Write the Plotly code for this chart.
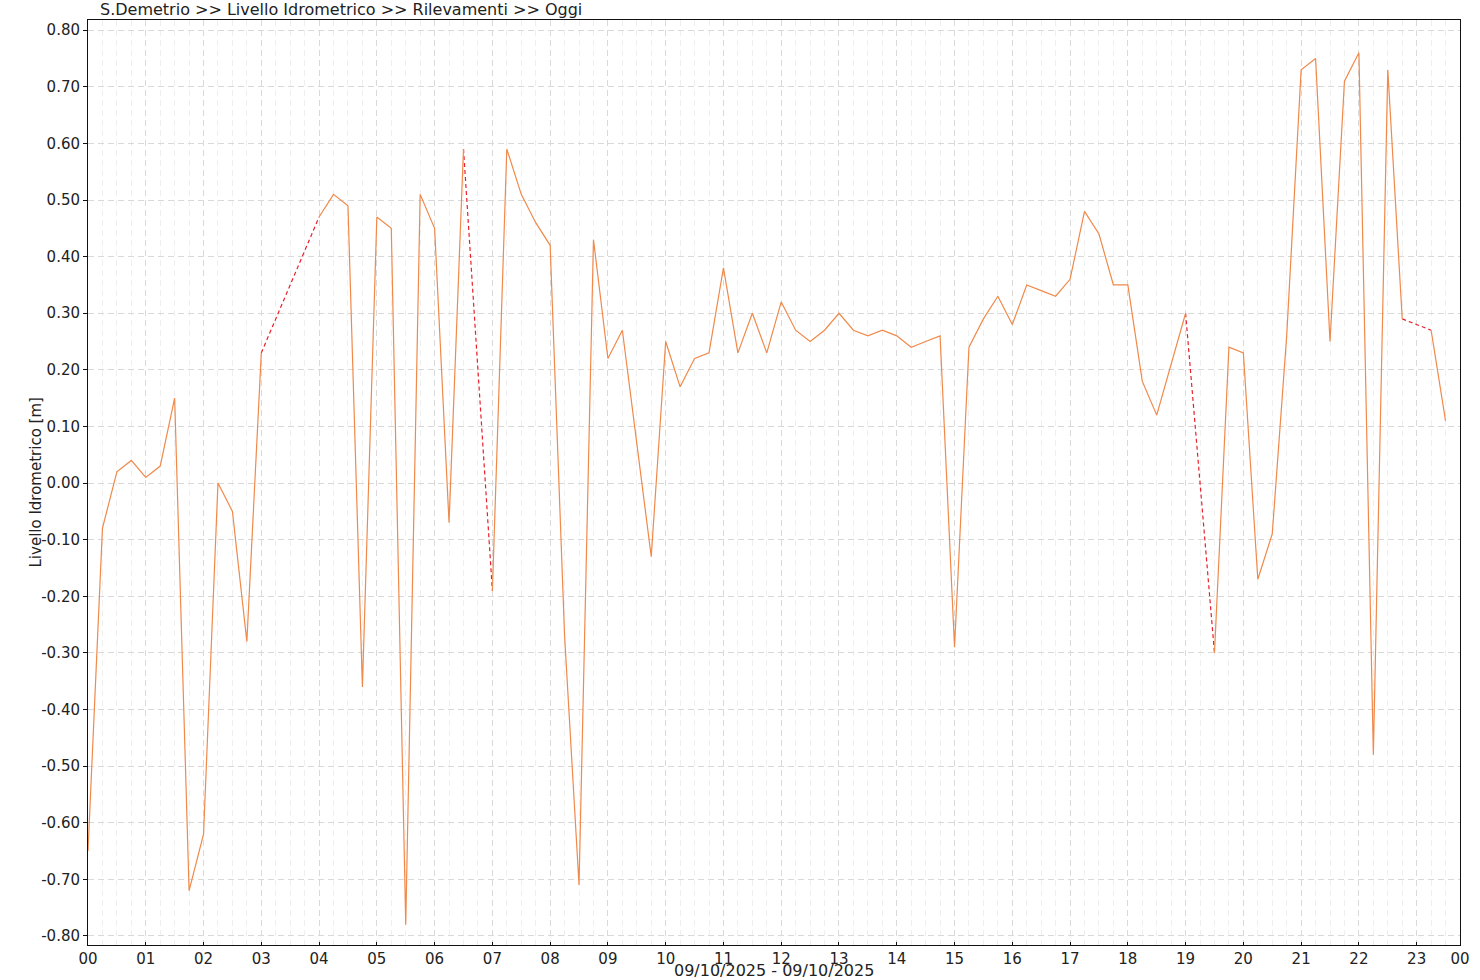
import plotly.graph_objects as go

# ---- data (15-minute readings, None = missing) ----
times = [f"{h:02d}:{m:02d}" for h in range(24) for m in (0, 15, 30, 45)][:95]
levels = [
    -0.65, -0.08, 0.02, 0.04,
    0.01, 0.03, 0.15, -0.72,
    -0.62, 0.00, -0.05, -0.28,
    0.23, None, None, None,
    0.47, 0.51, 0.49, -0.36,
    0.47, 0.45, -0.78, 0.51,
    0.45, -0.07, 0.59, None,
    -0.19, 0.59, 0.51, 0.46,
    0.42, -0.27, -0.71, 0.43,
    0.22, 0.27, 0.07, -0.13,
    0.25, 0.17, 0.22, 0.23,
    0.38, 0.23, 0.30, 0.23,
    0.32, 0.27, 0.25, 0.27,
    0.30, 0.27, 0.26, 0.27,
    0.26, 0.24, 0.25, 0.26,
    -0.29, 0.24, 0.29, 0.33,
    0.28, 0.35, 0.34, 0.33,
    0.36, 0.48, 0.44, 0.35,
    0.35, 0.18, 0.12, 0.21,
    0.30, None, -0.30, 0.24,
    0.23, -0.17, -0.09, 0.26,
    0.73, 0.75, 0.25, 0.71,
    0.76, -0.48, 0.73, 0.29,
    None, 0.27, 0.11,
]
y_ticks = [round(-0.8 + 0.1 * i, 2) for i in range(17)]
y_ticklabels = [f"{v:.2f}" for v in y_ticks]
x_ticklabels = [f"{h:02d}" for h in range(24)] + ["00"]
title_text = "S.Demetrio >> Livello Idrometrico >> Rilevamenti >> Oggi"
x_title = "09/10/2025 - 09/10/2025"
y_title = "Livello Idrometrico [m]"

hours = [int(t[:2]) + int(t[3:]) / 60 for t in times]
x_tickvals = list(range(24)) + [23.75]

# gap connectors (dashed red) between valid points around missing values
gx, gy = [], []
prev = None
for i, v in enumerate(levels):
    if v is None:
        continue
    if prev is not None and i - prev > 1:
        gx += [hours[prev], hours[i], None]
        gy += [levels[prev], v, None]
    prev = i

FONT = "DejaVu Sans"
TXT = "#222222"
fig = go.Figure()
fig.add_trace(go.Scatter(x=gx, y=gy, mode="lines", connectgaps=False,
                         line=dict(color="#e8202a", width=1.2, dash="4px,3px"),
                         hoverinfo="skip", showlegend=False))
fig.add_trace(go.Scatter(x=hours, y=levels, mode="lines", connectgaps=False,
                         line=dict(color="#f0894a", width=1.2),
                         showlegend=False))

fig.update_layout(
    width=1480, height=980,
    margin=dict(l=88, r=20, t=20, b=35, autoexpand=False),
    paper_bgcolor="white", plot_bgcolor="white",
    font=dict(family=FONT, size=15, color=TXT),
    showlegend=False,
)
fig.update_xaxes(
    range=[0, 23.75], tickmode="array", tickvals=x_tickvals, ticktext=x_ticklabels,
    showline=True, linecolor="#111", linewidth=1, mirror=True,
    ticks="inside", ticklen=3, tickcolor="#111",
    showgrid=True, gridcolor="#d9d9d9", griddash="6px,4px", gridwidth=1,
    zeroline=False, automargin=False, tickfont=dict(family=FONT, size=15, color=TXT),
    minor=dict(dtick=0.25, tick0=0, showgrid=True, gridcolor="#efefef",
               griddash="6px,4px", ticks=""),
)
fig.update_yaxes(
    range=[-0.816, 0.818], tickmode="array", tickvals=y_ticks, ticktext=y_ticklabels,
    showline=True, linecolor="#111", linewidth=1, mirror=True,
    ticks="outside", ticklen=4, tickcolor="#111",
    showgrid=True, gridcolor="#d9d9d9", griddash="6px,4px", gridwidth=1,
    zeroline=False, automargin=False, tickfont=dict(family=FONT, size=15, color=TXT),
)
fig.add_annotation(text=title_text, xref="paper", yref="paper", x=0, y=1,
                   xanchor="left", yanchor="middle", xshift=10, yshift=11,
                   showarrow=False, font=dict(family=FONT, size=16, color=TXT))
fig.add_annotation(text=x_title, xref="paper", yref="paper", x=0.5, y=0,
                   xanchor="center", yanchor="middle", yshift=-25,
                   showarrow=False, font=dict(family=FONT, size=16, color=TXT))
fig.add_annotation(text=y_title, xref="paper", yref="paper", x=0, y=0.5,
                   xanchor="center", yanchor="middle", xshift=-53, textangle=-90,
                   showarrow=False, font=dict(family=FONT, size=15, color=TXT))

fig.write_html("out.html", config={"displayModeBar": False},
               post_script="document.body.style.margin='0';")
